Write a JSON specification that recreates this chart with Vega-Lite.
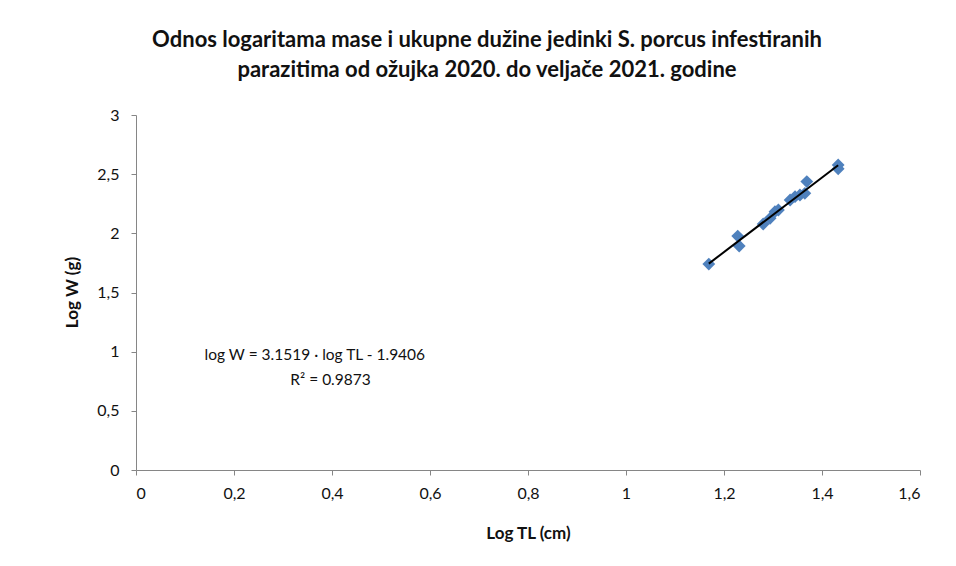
{
  "$schema": "https://vega.github.io/schema/vega-lite/v6.json",
  "autosize": {"type": "none"},
  "width": 784,
  "height": 355,
  "padding": {"left": 136, "top": 115, "right": 36, "bottom": 96},
  "background": "white",
  "title": {
    "text": ["Odnos logaritama mase  i ukupne dužine jedinki S. porcus infestiranih", "parazitima od ožujka 2020. do veljače 2021. godine"],
    "anchor": "middle",
    "dx": -41,
    "offset": 25,
    "font": "Lato",
    "fontSize": 22,
    "fontWeight": "bold",
    "color": "#111",
    "lineHeight": 30
  },
  "config": {
    "view": {"stroke": null},
    "font": "Lato"
  },
  "datasets": {
    "points": [
      {"logTL": 1.169, "logW": 1.74},
      {"logTL": 1.228, "logW": 1.977},
      {"logTL": 1.231, "logW": 1.893},
      {"logTL": 1.280, "logW": 2.079},
      {"logTL": 1.294, "logW": 2.127},
      {"logTL": 1.304, "logW": 2.183},
      {"logTL": 1.311, "logW": 2.197},
      {"logTL": 1.335, "logW": 2.282},
      {"logTL": 1.345, "logW": 2.31},
      {"logTL": 1.355, "logW": 2.324},
      {"logTL": 1.365, "logW": 2.338},
      {"logTL": 1.369, "logW": 2.437},
      {"logTL": 1.433, "logW": 2.578},
      {"logTL": 1.433, "logW": 2.545}
    ],
    "fit": [
      {"logTL": 1.169, "logW": 1.744},
      {"logTL": 1.433, "logW": 2.576}
    ],
    "labels": [
      {"logTL": 0.365, "logW": 0.972, "label": "log W = 3.1519 · log TL - 1.9406"},
      {"logTL": 0.397, "logW": 0.76, "label": "R² = 0.9873"}
    ]
  },
  "layer": [
    {
      "data": {"name": "points"},
      "mark": {"type": "point", "shape": "diamond", "filled": true, "size": 165, "color": "#4F81BD", "opacity": 1},
      "encoding": {
        "x": {
          "field": "logTL", "type": "quantitative",
          "scale": {"domain": [0, 1.6], "nice": false, "zero": true},
          "axis": {
            "title": "Log TL (cm)",
            "values": [0, 0.2, 0.4, 0.6, 0.8, 1, 1.2, 1.4, 1.6],
            "labelExpr": "replace(format(datum.value, '~g'), '.', ',')",
            "grid": false,
            "domainColor": "#868686",
            "tickColor": "#868686",
            "tickSize": 5,
            "labelPadding": 10,
            "labelFont": "Lato",
            "labelFontSize": 16,
            "labelColor": "#111",
            "titleFont": "Lato",
            "titleFontSize": 17,
            "titleFontWeight": "bold",
            "titleColor": "#111",
            "titleBaseline": "middle",
            "titleY": 63
          }
        },
        "y": {
          "field": "logW", "type": "quantitative",
          "scale": {"domain": [0, 3], "nice": false},
          "axis": {
            "title": "Log W (g)",
            "values": [0, 0.5, 1, 1.5, 2, 2.5, 3],
            "labelExpr": "replace(format(datum.value, '~g'), '.', ',')",
            "grid": false,
            "domainColor": "#868686",
            "tickColor": "#868686",
            "tickSize": 5,
            "labelPadding": 12,
            "labelFont": "Lato",
            "labelFontSize": 16,
            "labelColor": "#111",
            "titleFont": "Lato",
            "titleFontSize": 17,
            "titleFontWeight": "bold",
            "titleColor": "#111",
            "titleBaseline": "middle",
            "titleX": -64,
            "titleY": 177
          }
        }
      }
    },
    {
      "data": {"name": "fit"},
      "mark": {"type": "line", "color": "#000000", "strokeWidth": 2},
      "encoding": {
        "x": {"field": "logTL", "type": "quantitative"},
        "y": {"field": "logW", "type": "quantitative"}
      }
    },
    {
      "data": {"name": "labels"},
      "mark": {"type": "text", "font": "Lato", "fontSize": 15.5, "color": "#111", "align": "center", "baseline": "middle"},
      "encoding": {
        "x": {"field": "logTL", "type": "quantitative"},
        "y": {"field": "logW", "type": "quantitative"},
        "text": {"field": "label"}
      }
    }
  ]
}
